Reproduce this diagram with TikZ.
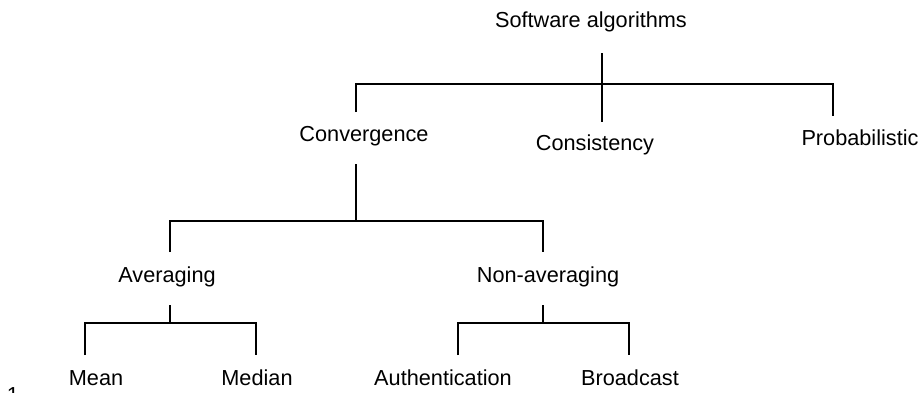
\documentclass[tikz,border=0pt]{standalone}
\usepackage{fontspec}
\setmainfont{Liberation Sans}
\begin{document}
\begin{tikzpicture}[x=1pt,y=-1pt,
  label/.style={inner sep=0pt, anchor=base, font=\fontsize{21.7}{26}\selectfont},
  branch/.style={line width=1.6pt, line cap=butt, line join=miter}]
\useasboundingbox (0,0) rectangle (919,392);

% category labels, placed by their baselines
\node[label] (root)   at (591,27)  {Software algorithms};
\node[label] (conv)   at (364,141.5) {Convergence};
\node[label] (cons)   at (595,150.5) {Consistency};
\node[label] (prob)   at (860,145) {Probabilistic};
\node[label] (avg)    at (167,282.5) {Averaging};
\node[label] (nonavg) at (548,282.5) {Non-averaging};
\node[label] (mean)   at (96,385.5)  {Mean};
\node[label] (median) at (257,385.5) {Median};
\node[label] (auth)   at (443,385.5) {Authentication};
\node[label] (bcast)  at (630,385.5) {Broadcast};
\node[label] (pgno)   at (13,402) {1};

% junction points of the tree
\coordinate (rootTop)  at (602,53);
\coordinate (rootBar)  at (602,84);
\coordinate (rootBot)  at (602,122);
\coordinate (convTop)  at (356,112);
\coordinate (probTop)  at (833,116);
\coordinate (convStem) at (356,164);
\coordinate (convBar)  at (356,221);
\coordinate (avgTop)   at (170,252);
\coordinate (nonTop)   at (543,252);
\coordinate (avgStem)  at (170,305);
\coordinate (avgBar)   at (170,323);
\coordinate (meanTop)  at (85,355);
\coordinate (medTop)   at (256,355);
\coordinate (nonStem)  at (543,305);
\coordinate (nonBar)   at (543,323);
\coordinate (authTop)  at (458,355);
\coordinate (bcTop)    at (629,355);

% first level
\draw[branch] (rootTop) -- (rootBot);
\draw[branch] (convTop) |- (rootBar) -| (probTop);

% under Convergence
\draw[branch] (convStem) -- (convBar);
\draw[branch] (avgTop) |- (convBar) -| (nonTop);

% under Averaging
\draw[branch] (avgStem) -- (avgBar);
\draw[branch] (meanTop) |- (avgBar) -| (medTop);

% under Non-averaging
\draw[branch] (nonStem) -- (nonBar);
\draw[branch] (authTop) |- (nonBar) -| (bcTop);
\end{tikzpicture}
\end{document}
